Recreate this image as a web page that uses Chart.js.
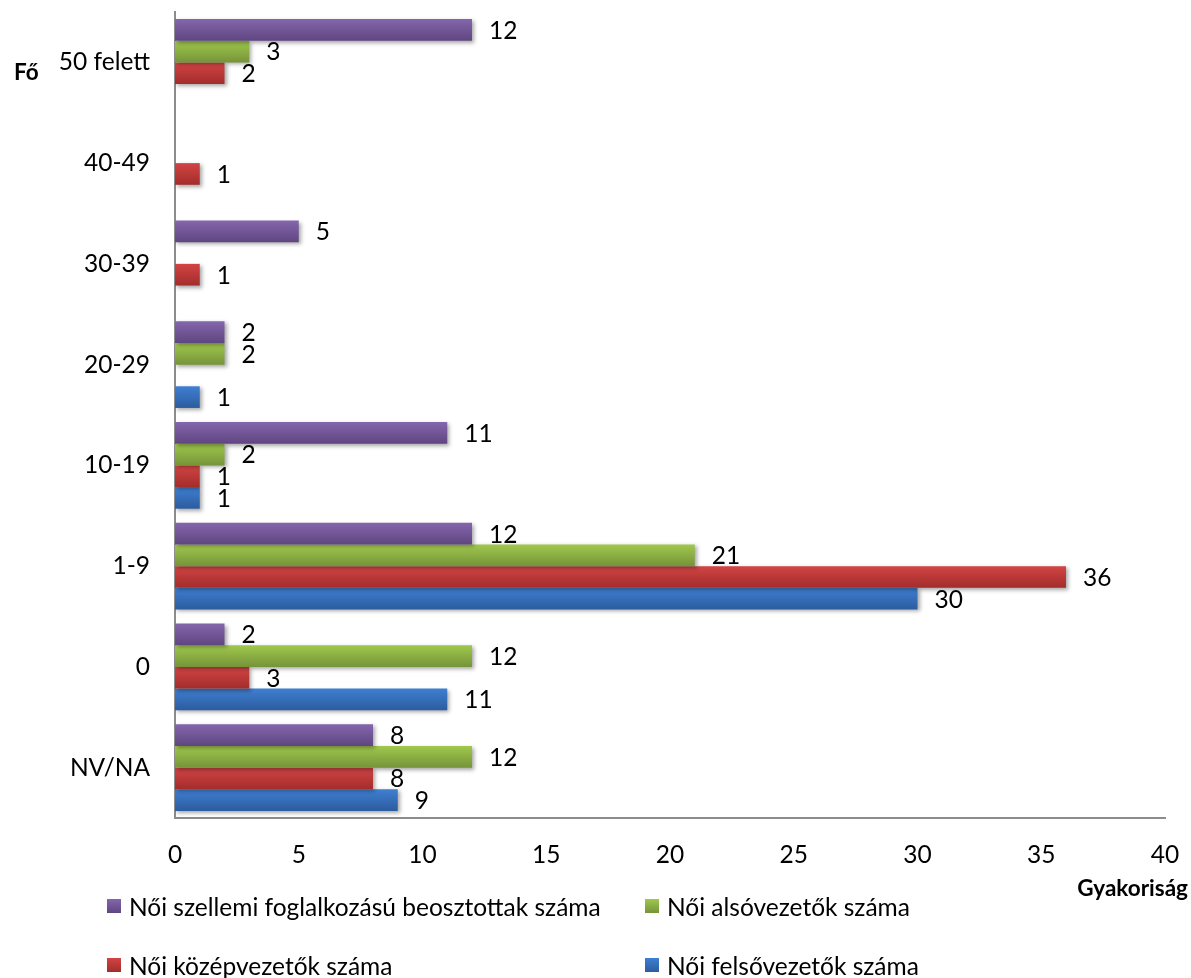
<!DOCTYPE html>
<html lang="hu">
  <head>
    <meta charset="UTF-8" />
    <title>Gyakoriság</title>
    <style>
      body {
        margin: 0;
        background: #fff;
      }
      .container {
        position: relative;
        width: 1191px;
        height: 978px;
        font-family: Lato, "Liberation Sans", sans-serif;
      }
      #legend {
        position: absolute;
        left: 107px;
        top: 891px;
        width: 1000px;
      }
      #legend ul {
        list-style: none;
        margin: 0;
        padding: 0;
        display: grid;
        grid-template-columns: 538px 460px;
        row-gap: 29px;
      }
      #legend li {
        display: flex;
        align-items: center;
        font-size: 24.5px;
        height: 30px;
        color: #000;
      }
      #legend .box {
        display: inline-block;
        width: 14px;
        height: 14px;
        margin-right: 8px;
      }
    </style>
    <script src="https://cdn.jsdelivr.net/npm/chart.js"></script>
  </head>
  <body>
    <div class="container">
      <canvas id="chart" width="1191" height="978"></canvas>
      <div id="legend"></div>
    </div>
    <script>
      // kategóriák (fentről lefelé)
      const categories = ["50 felett", "40-49", "30-39", "20-29", "10-19", "1-9", "0", "NV/NA"];

      const seriesNames = [
        "Női szellemi foglalkozású beosztottak száma",
        "Női alsóvezetők száma",
        "Női középvezetők száma",
        "Női felsővezetők száma"
      ];

      const szellemi = [12, null, 5, 2, 11, 12, 2, 8];
      const alsovezetok = [3, null, null, 2, 2, 21, 12, 12];
      const kozepvezetok = [2, 1, 1, null, 1, 36, 3, 8];
      const felsovezetok = [null, null, null, 1, 1, 30, 11, 9];

      const xTicks = [0, 5, 10, 15, 20, 25, 30, 35, 40];

      // [felső, alsó] színek a színátmenethez
      const colors = [
        ["#8466ad", "#5f4680"],
        ["#a0c84c", "#76943a"],
        ["#d24444", "#a22d2b"],
        ["#3f7fd2", "#2c5c9e"]
      ];

      const seriesData = [szellemi, alsovezetok, kozepvezetok, felsovezetok];

      const FONT = "Lato, 'Liberation Sans', sans-serif";

      const barStyle = {
        id: "barStyle",
        beforeDatasetsDraw(chart) {
          const ctx = chart.ctx;
          chart.data.datasets.forEach((ds, i) => {
            const meta = chart.getDatasetMeta(i);
            meta.data.forEach((bar) => {
              const top = bar.y - bar.height / 2;
              const g = ctx.createLinearGradient(0, top, 0, top + bar.height);
              g.addColorStop(0, colors[i][0]);
              g.addColorStop(1, colors[i][1]);
              bar.options = Object.assign({}, bar.options, { backgroundColor: g });
            });
          });
          ctx.save();
          ctx.shadowColor = "rgba(0,0,0,0.35)";
          ctx.shadowBlur = 4;
          ctx.shadowOffsetX = 2;
          ctx.shadowOffsetY = 2;
        },
        afterDatasetsDraw(chart) {
          const ctx = chart.ctx;
          ctx.restore();
          // értékcímkék
          ctx.save();
          ctx.font = "24.5px " + FONT;
          ctx.fillStyle = "#000";
          ctx.textBaseline = "middle";
          ctx.textAlign = "left";
          chart.data.datasets.forEach((ds, i) => {
            const meta = chart.getDatasetMeta(i);
            meta.data.forEach((bar, j) => {
              const v = ds.data[j];
              if (v === null) return;
              ctx.fillText(String(v), bar.x + 17, bar.y + 1);
            });
          });
          ctx.restore();
        }
      };

      const axisTitles = {
        id: "axisTitles",
        afterDraw(chart) {
          const ctx = chart.ctx;
          const area = chart.chartArea;
          ctx.save();
          ctx.font = "bold 22.5px " + FONT;
          ctx.fillStyle = "#000";
          ctx.textBaseline = "middle";
          ctx.textAlign = "left";
          ctx.fillText("Fő", 14, area.top + 61);
          ctx.textAlign = "right";
          ctx.fillText("Gyakoriság", 1188, area.bottom + 71);
          ctx.restore();
        }
      };

      const htmlLegend = {
        id: "htmlLegend",
        afterUpdate(chart) {
          const box = document.getElementById("legend");
          box.innerHTML = "";
          const ul = document.createElement("ul");
          chart.data.datasets.forEach((ds, i) => {
            const li = document.createElement("li");
            const sq = document.createElement("span");
            sq.className = "box";
            sq.style.background = "linear-gradient(" + colors[i][0] + "," + colors[i][1] + ")";
            li.appendChild(sq);
            li.appendChild(document.createTextNode(ds.label));
            ul.appendChild(li);
          });
          box.appendChild(ul);
        }
      };

      new Chart(document.getElementById("chart"), {
        type: "bar",
        data: {
          labels: categories,
          datasets: seriesData.map((d, i) => ({
            label: seriesNames[i],
            data: d,
            backgroundColor: colors[i][0],
            borderWidth: 0,
            categoryPercentage: 0.86,
            barPercentage: 1.0
          }))
        },
        options: {
          indexAxis: "y",
          responsive: false,
          animation: false,
          layout: {
            padding: { top: 12, right: 26, left: 0, bottom: 0 }
          },
          scales: {
            x: {
              min: 0,
              max: 40,
              afterBuildTicks(scale) {
                scale.ticks = xTicks.map((v) => ({ value: v }));
              },
              afterFit(scale) {
                scale.height = 160;
                scale.paddingLeft = 0;
                scale.paddingRight = 0;
              },
              grid: { display: false, drawTicks: false },
              border: { display: true, color: "#8c8c8c", width: 2 },
              ticks: {
                padding: 22,
                color: "#000",
                font: { family: FONT, size: 24.5 }
              }
            },
            y: {
              afterFit(scale) {
                scale.width = 175;
                scale.paddingTop = 0;
                scale.paddingBottom = 0;
              },
              grid: { display: false, drawTicks: false },
              border: { display: true, color: "#8c8c8c", width: 2 },
              ticks: {
                padding: 25,
                color: "#000",
                font: { family: FONT, size: 24.5 }
              }
            }
          },
          plugins: {
            legend: { display: false },
            tooltip: { enabled: false }
          }
        },
        plugins: [barStyle, axisTitles, htmlLegend]
      });
    </script>
  </body>
</html>
